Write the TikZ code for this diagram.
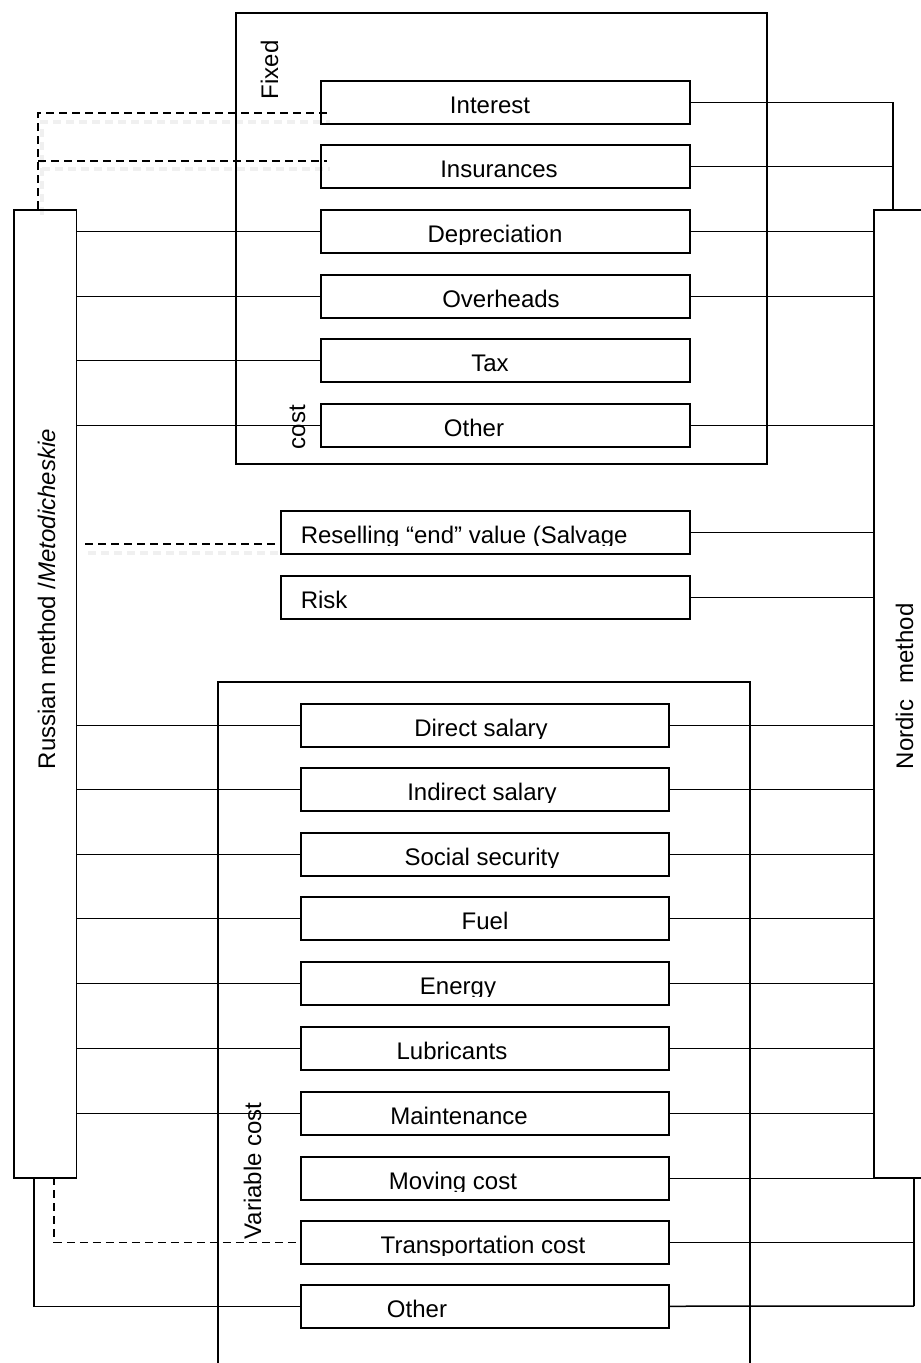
\documentclass[tikz,border=0pt]{standalone}
\usepackage{fontspec}
\setmainfont{Liberation Sans}
\begin{document}
\begin{tikzpicture}[x=1pt,y=-1pt,line width=1.5pt,
  box/.style={draw,rectangle,minimum height=43pt,inner sep=0pt,anchor=north west},
  txt/.style={font=\fontsize{24}{28}\selectfont,inner sep=0pt},
  rlbl/.style={txt,rotate=90,anchor=base west},
  dashedline/.style={dash pattern=on 8pt off 5pt},
  shadowline/.style={gray!12,line width=4pt,dash pattern=on 8pt off 5pt}]
\useasboundingbox (0,0) rectangle (921,1363);
\clip (0,0) rectangle (921,1363);
\newcommand\btext[5]{\begin{scope}\clip (0,#2) rectangle (921,#2+35);
  \node[txt,anchor=#5] (#1) at (#3,#2+33) {#4};\end{scope}}
% shadows of dashed connectors
\draw[shadowline] (42,215) -- (42,122) -- (330,122);
\draw[shadowline] (42,169) -- (330,169);
\draw[shadowline] (88,553) -- (283,553);
% group frames
\draw (236,13) rectangle (767,464);
\draw (218,1370) |- (750,682) -- (750,1370);
% side boxes
\node[box,minimum width=62.5pt,minimum height=968pt] (russ) at (13,209) {};
\node[box,minimum width=100pt,minimum height=968pt] (nord) at (873,209) {};
% fixed cost boxes
\node[box,minimum width=369pt] (interest) at (320,80) {};
\node[box,minimum width=369pt] (ins) at (320,144) {};
\node[box,minimum width=369pt] (dep) at (320,209) {};
\node[box,minimum width=369pt] (ovh) at (320,274) {};
\node[box,minimum width=369pt] (tax) at (320,338) {};
\node[box,minimum width=369pt] (oth1) at (320,403) {};
% middle boxes
\node[box,minimum width=409pt] (resell) at (280,510) {};
\node[box,minimum width=409pt] (risk) at (280,575) {};
% variable cost boxes
\node[box,minimum width=368pt] (dsal) at (300,703) {};
\node[box,minimum width=368pt] (isal) at (300,767) {};
\node[box,minimum width=368pt] (soc) at (300,832) {};
\node[box,minimum width=368pt] (fuel) at (300,896) {};
\node[box,minimum width=368pt] (ener) at (300,961) {};
\node[box,minimum width=368pt] (lub) at (300,1026) {};
\node[box,minimum width=368pt] (maint) at (300,1091) {};
\node[box,minimum width=368pt] (mov) at (300,1156) {};
\node[box,minimum width=368pt] (trans) at (300,1220) {};
\node[box,minimum width=368pt] (oth2) at (300,1284) {};
% box texts (clipped like the reference)
\btext{tinterest}{80}{490}{Interest}{base}
\btext{tins}{144}{499}{Insurances}{base}
\btext{tdep}{209}{495}{Depreciation}{base}
\btext{tovh}{274}{501}{Overheads}{base}
\btext{ttax}{338}{490}{Tax}{base}
\btext{toth1}{403}{474}{Other}{base}
\btext{tresell}{510}{300}{Reselling “end” value (Salvage}{base west}
\btext{trisk}{575}{300}{Risk}{base west}
\btext{tdsal}{703}{481}{Direct salary}{base}
\btext{tisal}{767}{482}{Indirect salary}{base}
\btext{tsoc}{832}{482}{Social security}{base}
\btext{tfuel}{896}{485}{Fuel}{base}
\btext{tener}{961}{458}{Energy}{base}
\btext{tlub}{1026}{452}{Lubricants}{base}
\btext{tmaint}{1091}{459}{Maintenance}{base}
\btext{tmov}{1156}{453}{Moving cost}{base}
\btext{ttrans}{1220}{483}{Transportation cost}{base}
\btext{toth2}{1284}{417}{Other}{base}
% rotated labels
\node[rlbl] (fixedlbl) at (278,100) {Fixed};
\node[rlbl] (costlbl) at (305,450) {cost};
\node[rlbl] (varlbl) at (261,1240) {Variable cost};
\node[rlbl] (russlbl) at (55,770) {Russian method /\textit{Metodicheskie}};
\node[rlbl] (nordlbl) at (913,770) {Nordic\hspace{0.4em} method};
% connectors from Russian method
\foreach \n in {dep,ovh,tax,oth1,dsal,isal,soc,fuel,ener,lub,maint}
  \draw (russ.east |- \n.west) -- (\n.west);
% connectors to Nordic method
\foreach \n in {dep,ovh,oth1,resell,risk,dsal,isal,soc,fuel,ener,lub,maint,mov}
  \draw (\n.east) -- (nord.west |- \n.east);
\coordinate (jn) at (893,209);
\draw (interest.east) -| (jn);
\draw (ins.east) -- (ins.east -| jn);
\coordinate (jb) at (914,1306);
\coordinate (jbt) at (914,1177);
\draw (jbt) -- (jb);
\draw (trans.east) -- (trans.east -| jb);
\draw (oth2.east) -- (jb);
% bottom left connectors
\coordinate (rb1) at (34,1177);
\coordinate (rb2) at (54,1177);
\draw (rb1) |- (oth2.west);
\draw[dashedline] (rb2) |- (trans.west);
% dashed top-left connectors
\coordinate (rt) at (38,209);
\coordinate (rm) at (38,161);
\coordinate (ie) at (327,113);
\coordinate (ise) at (327,161);
\draw[dashedline] (rt) |- (ie);
\draw[dashedline] (rm) -- (ise);
\coordinate (rs) at (85,544);
\draw[dashedline] (rs) -- (rs -| resell.west);
\end{tikzpicture}
\end{document}
